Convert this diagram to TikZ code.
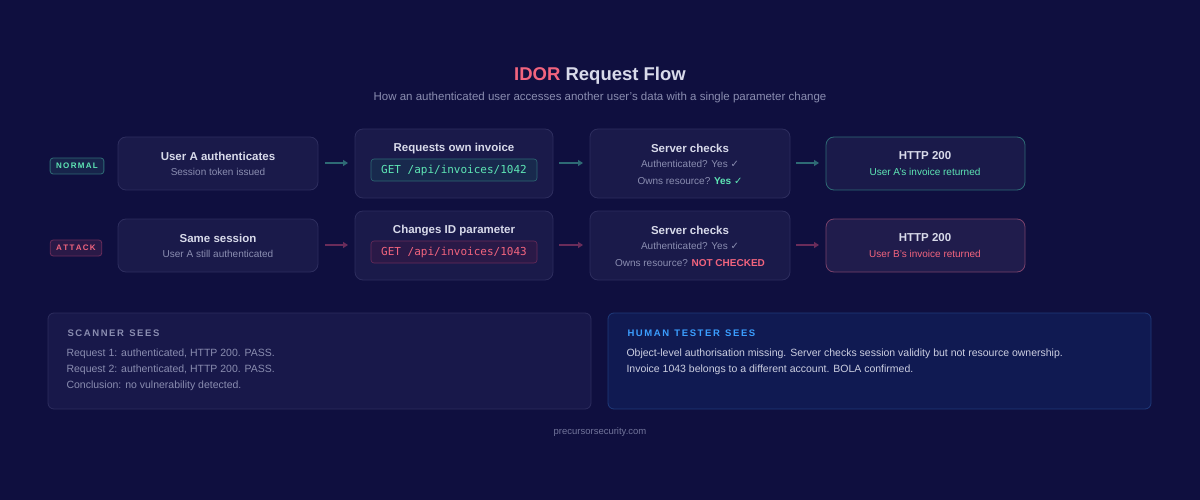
\documentclass[tikz,border=0pt]{standalone}
\usepackage{fontspec}
\setmainfont{Liberation Sans}
\setmonofont{DejaVu Sans Mono}
\newfontfamily\sym{DejaVu Sans}
\usetikzlibrary{arrows.meta}
\definecolor{bg}{HTML}{0F0F3F}
\definecolor{boxf}{HTML}{1A1A4A}
\definecolor{boxd}{HTML}{2D2D5E}
\definecolor{txt}{HTML}{D8DAEA}
\definecolor{sub}{HTML}{8A8DB0}
\definecolor{teal}{HTML}{5EE6B5}
\definecolor{pink}{HTML}{F2647E}
\definecolor{tealarr}{HTML}{2E6A75}
\definecolor{pinkarr}{HTML}{6A2C5A}
\definecolor{blue}{HTML}{3B9EFF}
\definecolor{panl}{HTML}{18184A}
\definecolor{panrd}{HTML}{1F3A7A}
\definecolor{panrf}{HTML}{101A52}
\newcommand{\ck}{{\sym\char"2713}}
\tikzset{
 box/.style={draw=boxd,fill=boxf,rounded corners=8pt,line width=0.8pt},
 t/.style={font=\bfseries\fontsize{11.5}{13}\selectfont,text=txt},
 s/.style={font=\fontsize{10}{12}\selectfont,text=sub},
 badge/.style={rounded corners=3pt,line width=0.8pt,font=\bfseries\fontsize{8}{9}\selectfont,minimum height=16pt,inner xsep=6pt},
 arrA/.style={-{Triangle[length=5pt,width=6pt]},line width=1.5pt,draw=tealarr},
 arrB/.style={-{Triangle[length=5pt,width=6pt]},line width=1.5pt,draw=pinkarr},
 code/.style={rounded corners=3pt,line width=0.6pt,font=\ttfamily\fontsize{11}{12}\selectfont,minimum width=166pt,minimum height=22pt},
}
\begin{document}
\begin{tikzpicture}[x=1pt,y=-1pt]
\fill[bg] (0,0) rectangle (1200,500);
\useasboundingbox (0,0) rectangle (1200,500);
\node (title) at (600,76) {\bfseries\fontsize{18.5}{20}\selectfont\textcolor{pink}{IDOR} \textcolor{txt}{Request Flow}};
\node[s,font=\fontsize{11.5}{13}\selectfont] (subt) at (600,98) {How an authenticated user accesses another user's data with a single parameter change};
% badges
\node[badge,draw=tealarr,fill=teal!10!bg,text=teal] (bn) at (77,166) {N\,O\,R\,M\,A\,L};
\node[badge,draw=pinkarr,fill=pink!12!bg,text=pink] (ba) at (76,248) {A\,T\,T\,A\,C\,K};
% row 1
\draw[box] (118,137) rectangle (318,190);
\node[t] (a1t) at (218,156) {User A authenticates};
\node[s] (a1s) at (218,172) {Session token issued};
\draw[box] (355,129) rectangle (553,198);
\node[t] (a2t) at (454,149) {Requests own invoice};
\node[code,draw=tealarr,fill=teal!12!bg,text=teal] (a2c) at (454,170) {GET /api/invoices/1042};
\draw[box] (590,129) rectangle (790,198);
\node[t] (a3t) at (690,148) {Server checks};
\node[s] (a3s) at (690,164) {Authenticated? Yes \ck};
\node[s] (a3u) at (690,181) {Owns resource? \textcolor{teal}{\bfseries Yes \ck}};
\draw[box,draw=tealarr] (826,137) rectangle (1025,190);
\node[t] (a4t) at (925,156) {HTTP 200};
\node[s,text=teal] (a4s) at (925,172) {User A's invoice returned};
\coordinate (r1a) at (325,163); \coordinate (r1b) at (348,163);
\coordinate (r2a) at (559,163); \coordinate (r2b) at (583,163);
\coordinate (r3a) at (796,163); \coordinate (r3b) at (819,163);
\draw[arrA] (r1a) -- (r1b); \draw[arrA] (r2a) -- (r2b); \draw[arrA] (r3a) -- (r3b);
% row 2
\draw[box] (118,219) rectangle (318,272);
\node[t] (b1t) at (218,238) {Same session};
\node[s] (b1s) at (218,254) {User A still authenticated};
\draw[box] (355,211) rectangle (553,280);
\node[t] (b2t) at (454,231) {Changes ID parameter};
\node[code,draw=pinkarr,fill=pink!12!bg,text=pink] (b2c) at (454,252) {GET /api/invoices/1043};
\draw[box] (590,211) rectangle (790,280);
\node[t] (b3t) at (690,230) {Server checks};
\node[s] (b3s) at (690,246) {Authenticated? Yes \ck};
\node[s] (b3u) at (690,263) {Owns resource? \textcolor{pink}{\bfseries NOT CHECKED}};
\draw[box,draw=pinkarr!90,fill=pink!3!boxf] (826,219) rectangle (1025,272);
\node[t] (b4t) at (925,238) {HTTP 200};
\node[s,text=pink] (b4s) at (925,254) {User B's invoice returned};
\coordinate (s1a) at (325,245); \coordinate (s1b) at (348,245);
\coordinate (s2a) at (559,245); \coordinate (s2b) at (583,245);
\coordinate (s3a) at (796,245); \coordinate (s3b) at (819,245);
\draw[arrB] (s1a) -- (s1b); \draw[arrB] (s2a) -- (s2b); \draw[arrB] (s3a) -- (s3b);
% panels
\draw[box,rounded corners=6pt,fill=panl] (48,313) rectangle (591,409);
\node[anchor=west,font=\bfseries\fontsize{9.5}{11}\selectfont,text=sub] (ph) at (64,333) {S\,C\,A\,N\,N\,E\,R \ S\,E\,E\,S};
\node[anchor=north west,s,font=\fontsize{10.5}{16}\selectfont,align=left] (pl) at (63,345) {Request 1: authenticated, HTTP 200. PASS.\\Request 2: authenticated, HTTP 200. PASS.\\Conclusion: no vulnerability detected.};
\draw[box,rounded corners=6pt,draw=panrd,fill=panrf] (608,313) rectangle (1151,409);
\node[anchor=west,font=\bfseries\fontsize{9.5}{11}\selectfont,text=blue] (qh) at (624,333) {H\,U\,M\,A\,N \ T\,E\,S\,T\,E\,R \ S\,E\,E\,S};
\node[anchor=north west,font=\fontsize{10.5}{16}\selectfont,text=txt!85!sub,align=left] (ql) at (623,345) {Object-level authorisation missing. Server checks session validity but not resource ownership.\\Invoice 1043 belongs to a different account. BOLA confirmed.};
\node[s,font=\fontsize{9.5}{11}\selectfont,text=sub!80!bg] (foot) at (600,432) {precursorsecurity.com};
\end{tikzpicture}
\end{document}
